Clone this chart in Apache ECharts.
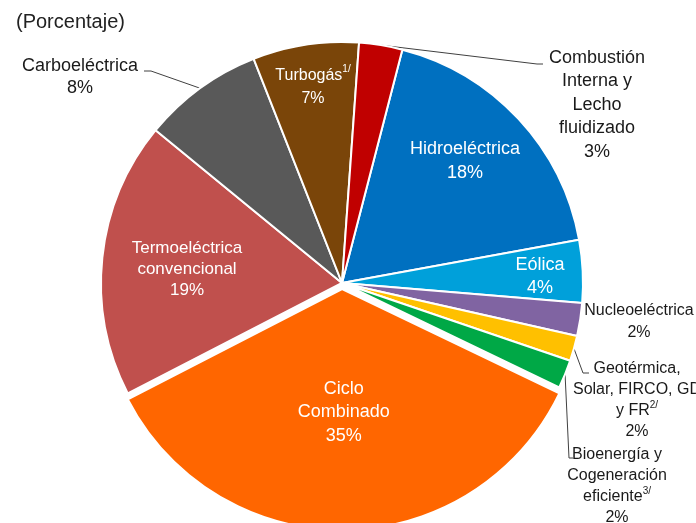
<!DOCTYPE html>
<html lang="es">
<head>
  <meta charset="UTF-8">
  <title>Capacidad por tecnología</title>
  <style>
    html, body { margin: 0; padding: 0; background: #fff; }
  </style>
</head>
<body>
  <script src="https://cdn.jsdelivr.net/npm/echarts@6/dist/echarts.min.js"></script>
  <div id="main" style="width: 696px;height:523px;"></div>
  <script type="text/javascript">
    // datos (porcentaje de capacidad)
    var categorias = ['Hidroeléctrica', 'Eólica', 'Nucleoeléctrica',
      'Geotérmica, Solar, FIRCO, GD y FR', 'Bioenergía y Cogeneración eficiente',
      'Ciclo Combinado', 'Termoeléctrica convencional', 'Carboeléctrica',
      'Turbogás', 'Combustión Interna y Lecho fluidizado'];
    var valores = [18.1, 4.2, 2.2, 1.7, 1.9, 35.3, 18.5, 8.1, 7.1, 2.9];
    var etiquetas = ['Hidroeléctrica', 'Eólica', 'Nucleoeléctrica',
      'Geotérmica,\nSolar, FIRCO, GD\ny FR{s|2/}', 'Bioenergía y\nCogeneración\neficiente{s|3/}',
      'Ciclo\nCombinado', 'Termoeléctrica\nconvencional', 'Carboeléctrica',
      'Turbogás{s|1/}', 'Combustión\nInterna y\nLecho\nfluidizado'];
    var colores = ['#0070C0', '#00A0DA', '#8064A2', '#FFC000', '#00A846',
      '#FF6600', '#C0504D', '#595959', '#7A4509', '#C00000'];
    var dentro = [true, true, false, false, false, true, true, false, true, false];

    // centro de cada etiqueta y tipografía
    var posEtiqueta = [[465, 161], [540, 277], [639, 322], [637, 400], [617, 486],
      [355, 400], [187, 269], [80, 77], [313, 87], [597, 105]];
    var tamano = [18, 18, 16, 16, 16, 18, 17, 18, 16, 18];
    var alto = [24, 23, 22, 21, 21, 23.5, 21, 22, 23, 23.5];
    // codo y final de la línea guía, relativos al centro de la etiqueta
    var guia = {
      7: [[71, -6], [64, -6]],
      9: [[-60, -41], [-54, -41]],
      3: [[-54, -27], [-48, -27]],
      4: [[-48, -28], [-44, -28]]
    };

    var datos = categorias.map(function (c, i) {
      return {
        name: c,
        value: valores[i],
        selected: i === 5,
        itemStyle: { color: colores[i] },
        label: {
          position: dentro[i] ? 'inside' : 'outside',
          color: dentro[i] ? '#fff' : '#1a1a1a',
          fontSize: tamano[i],
          lineHeight: alto[i]
        },
        labelLine: { show: !!guia[i] }
      };
    });

    var myChart = echarts.init(document.getElementById('main'));

    var option = {
      animation: false,
      title: {
        text: '(Porcentaje)',
        left: 11,
        top: 7,
        textStyle: { fontFamily: 'Liberation Sans', fontSize: 20, fontWeight: 'normal', color: '#222' }
      },
      series: [{
        type: 'pie',
        center: [342, 283],
        radius: 241,
        startAngle: 75.5,
        selectedMode: 'multiple',
        selectedOffset: 6,
        avoidLabelOverlap: false,
        itemStyle: { borderColor: '#fff', borderWidth: 2 },
        label: {
          fontFamily: 'Liberation Sans',
          align: 'center',
          formatter: function (p) {
            return etiquetas[p.dataIndex] + '\n' + Math.round(p.value) + '%';
          },
          rich: {
            s: { fontSize: 10, verticalAlign: 'top', fontFamily: 'Liberation Sans' }
          }
        },
        labelLine: {
          length: 10,
          length2: 4,
          lineStyle: { color: '#404040', width: 1 }
        },
        labelLayout: function (p) {
          var i = p.dataIndex;
          var pos = posEtiqueta[i];
          var res = { x: pos[0], y: pos[1], align: 'center', verticalAlign: 'middle' };
          if (guia[i] && p.labelLinePoints) {
            var a = p.labelLinePoints[0];
            res.labelLinePoints = [
              [a[0], a[1]],
              [pos[0] + guia[i][0][0], pos[1] + guia[i][0][1]],
              [pos[0] + guia[i][1][0], pos[1] + guia[i][1][1]]
            ];
          }
          return res;
        },
        emphasis: { disabled: true },
        data: datos
      }]
    };

    myChart.setOption(option);
  </script>
</body>
</html>
